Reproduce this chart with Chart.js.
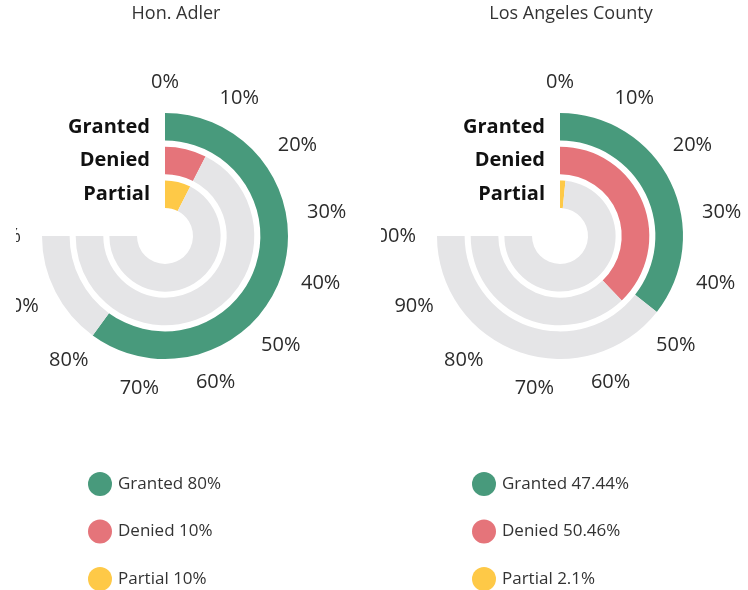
<!DOCTYPE html>
<html>
<head>
<meta charset="utf-8">
<script src="https://cdn.jsdelivr.net/npm/chart.js@4.4.1/dist/chart.umd.min.js"></script>
<style>
  body { margin: 0; background: #fff; }
  #wrap { position: relative; width: 748px; height: 590px; overflow: hidden; }
  canvas { position: absolute; top: 0; }
  /* the original panels cut off their leftmost tick labels */
  #adler { left: 0; clip-path: inset(0 0 0 16px); }
  #county { left: 374px; clip-path: inset(0 0 0 7px); }
</style>
</head>
<body>
<div id="wrap">
  <canvas id="adler" width="374" height="590"></canvas>
  <canvas id="county" width="374" height="590"></canvas>
</div>
<script>
const categories = ["Granted", "Denied", "Partial"];
const adlerValues = [80, 10, 10];
const countyValues = [47.44, 50.46, 2.1];
const tickValues = [0, 10, 20, 30, 40, 50, 60, 70, 80, 90, 100];
const tickLabels = ["0%", "10%", "20%", "30%", "40%", "50%", "60%", "70%", "80%", "90%", "100%"];

const colors = ["#489a7c", "#e5747a", "#fec947"];
const trackColor = "#e5e5e7";
const FONT = "'Open Sans', 'Noto Sans', sans-serif";

// draws title, % ticks round the gauge, ring names and the legend
const gaugeText = {
  id: "gaugeText",
  afterDraw(chart, args, opts) {
    const ctx = chart.ctx;
    const first = chart.getDatasetMeta(0).data[0];
    const cx = first.x, cy = first.y;
    const circ = chart.options.circumference;

    ctx.save();
    ctx.textBaseline = "middle";

    // title
    ctx.fillStyle = "#333";
    ctx.font = "18px " + FONT;
    ctx.textAlign = "center";
    ctx.fillText(opts.title, cx + 11, 14);

    // percent ticks
    ctx.font = "20px " + FONT;
    ctx.fillStyle = "#2b2b2b";
    const R = 144;
    tickValues.forEach((v, i) => {
      const a = (v / 100) * circ * Math.PI / 180;
      const s = Math.sin(a), c = Math.cos(a);
      const w = ctx.measureText(tickLabels[i]).width;
      const x = cx + R * s + (w / 2) * s;
      const y = cy - R * c - 10 * c;
      ctx.fillText(tickLabels[i], x, y);
    });

    // ring names
    ctx.font = "bold 20px " + FONT;
    ctx.fillStyle = "#111";
    ctx.textAlign = "right";
    opts.rings.forEach((dsIndex, i) => {
      const arc = chart.getDatasetMeta(dsIndex).data[0];
      const y = cy - (arc.innerRadius + arc.outerRadius) / 2;
      ctx.fillText(categories[i], cx - 15, y);
    });

    // legend
    ctx.font = "17px " + FONT;
    ctx.textAlign = "left";
    categories.forEach((cat, i) => {
      const y = 484 + i * 47.5;
      ctx.beginPath();
      ctx.arc(opts.legendX, y, 12, 0, Math.PI * 2);
      ctx.fillStyle = colors[i];
      ctx.fill();
      ctx.fillStyle = "#333";
      ctx.fillText(cat + " " + opts.values[i] + "%", opts.legendX + 18, y);
    });
    ctx.restore();
  }
};

function ringDataset(value, i) {
  return {
    data: [value, 100 - value],
    backgroundColor: [colors[i], trackColor],
    borderWidth: 0,
    weight: 1
  };
}

function spacer() {
  return {
    data: [100],
    backgroundColor: "rgba(0,0,0,0)",
    borderWidth: 0,
    weight: 0.22
  };
}

function makeGauge(canvas, title, values, cx, legendX) {
  const datasets = [
    ringDataset(values[0], 0), spacer(),
    ringDataset(values[1], 1), spacer(),
    ringDataset(values[2], 2)
  ];
  const r = 123, cy = 236;
  return new Chart(canvas, {
    type: "doughnut",
    data: { labels: ["value", "rest"], datasets: datasets },
    options: {
      responsive: false,
      animation: false,
      rotation: 0,
      circumference: 270,
      cutout: 28,
      layout: {
        padding: {
          left: cx - r,
          right: canvas.width - (cx + r),
          top: cy - r,
          bottom: canvas.height - (cy + r)
        }
      },
      plugins: {
        legend: { display: false },
        tooltip: { enabled: false },
        gaugeText: { title: title, values: values, rings: [0, 2, 4], legendX: legendX }
      }
    },
    plugins: [gaugeText]
  });
}

makeGauge(document.getElementById("adler"), "Hon. Adler", adlerValues, 165, 100);
makeGauge(document.getElementById("county"), "Los Angeles County", countyValues, 186, 110);
</script>
</body>
</html>
